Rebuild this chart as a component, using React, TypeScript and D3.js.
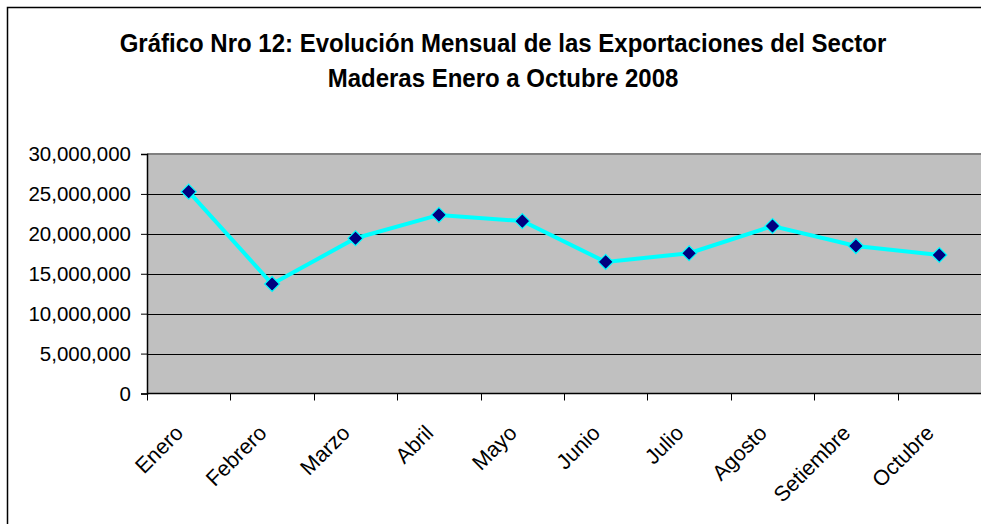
import React, { useEffect, useRef } from 'react';
import * as d3 from 'd3';

// months and monthly exports
const months = ['Enero', 'Febrero', 'Marzo', 'Abril', 'Mayo', 'Junio', 'Julio', 'Agosto', 'Setiembre', 'Octubre'];
const exportsValues = [25280000, 13720000, 19450000, 22370000, 21600000, 16480000, 17570000, 20980000, 18470000, 17350000];
const yTicks = [0, 5000000, 10000000, 15000000, 20000000, 25000000, 30000000];
const titleLines = [
  'Gráfico Nro 12: Evolución Mensual de las Exportaciones del Sector',
  'Maderas Enero a Octubre 2008',
];

const W = 981;
const H = 524;
const FONT = 'Liberation Sans, Arial, sans-serif';

export default function App() {
  const ref = useRef<SVGSVGElement>(null);

  useEffect(() => {
    const svg = d3.select(ref.current);
    svg.selectAll('*').remove();

    const left = 147;
    const right = 981;
    const top = 154;
    const bottom = 393.5;

    // chart area border, only left and top edges fall inside the picture
    svg.append('path')
      .attr('d', `M7.5,${H + 5}V7.5H${W + 5}`)
      .attr('fill', 'none')
      .attr('stroke', '#000')
      .attr('stroke-width', 1.5);

    const title = svg.append('g')
      .attr('font-family', FONT)
      .attr('font-weight', 'bold')
      .attr('font-size', 24)
      .attr('text-anchor', 'middle');
    titleLines.forEach((t, i) => {
      title.append('text')
        .attr('transform', `translate(503,${[52, 87][i]}) scale(1,1.1)`)
        .text(t);
    });

    const x = d3.scaleBand<string>().domain(months).range([left, right]);
    const y = d3.scaleLinear().domain([0, 30000000]).range([bottom, top]);

    // plot area
    svg.append('rect')
      .attr('x', left)
      .attr('y', top)
      .attr('width', W - left + 10)
      .attr('height', bottom - top)
      .attr('fill', '#c0c0c0');
    svg.append('line')
      .attr('x1', left)
      .attr('x2', W + 10)
      .attr('y1', top)
      .attr('y2', top)
      .attr('stroke', '#808080')
      .attr('stroke-width', 2);

    // gridlines
    svg.append('g')
      .selectAll('line')
      .data(yTicks.filter(d => d > 0 && d < 30000000))
      .enter()
      .append('line')
      .attr('x1', left)
      .attr('x2', W + 10)
      .attr('y1', d => Math.round(y(d)) + 0.5)
      .attr('y2', d => Math.round(y(d)) + 0.5)
      .attr('stroke', '#000')
      .attr('stroke-width', 1);

    // y axis
    const yAxis = svg.append('g')
      .attr('transform', `translate(${left},0)`)
      .call(d3.axisLeft(y).tickValues(yTicks).tickSize(6).tickPadding(10)
        .tickFormat(d => d3.format(',')(d as number)));
    yAxis.select('.domain').attr('stroke', '#000').attr('stroke-width', 1.5);
    yAxis.selectAll('.tick line').attr('stroke', '#000');
    yAxis.selectAll('.tick text')
      .attr('font-family', FONT)
      .attr('font-size', 20.5)
      .attr('fill', '#000');

    // x axis
    const xAxis = svg.append('g')
      .attr('transform', `translate(0,${bottom})`);
    xAxis.append('line')
      .attr('x1', left)
      .attr('x2', W + 10)
      .attr('y1', 0)
      .attr('y2', 0)
      .attr('stroke', '#000')
      .attr('stroke-width', 1.5);
    xAxis.selectAll('line.tk')
      .data(months)
      .enter()
      .append('line')
      .attr('class', 'tk')
      .attr('x1', d => Math.round(x(d) as number) + 0.5)
      .attr('x2', d => Math.round(x(d) as number) + 0.5)
      .attr('y1', 0)
      .attr('y2', 7)
      .attr('stroke', '#000');
    xAxis.selectAll('text')
      .data(months)
      .enter()
      .append('text')
      .attr('transform', d => `translate(${(x(d) as number) + x.bandwidth() / 2 - 15},30) rotate(-45)`)
      .attr('text-anchor', 'end')
      .attr('dy', '0.71em')
      .attr('font-family', FONT)
      .attr('font-size', 21.5)
      .attr('fill', '#000')
      .text(d => d);

    const cx = (i: number) => (x(months[i]) as number) + x.bandwidth() / 2;

    const line = d3.line<number>()
      .x((d, i) => cx(i))
      .y(d => y(d));

    svg.append('path')
      .datum(exportsValues)
      .attr('d', line)
      .attr('fill', 'none')
      .attr('stroke', '#00ffff')
      .attr('stroke-width', 4);

    svg.append('g')
      .selectAll('path')
      .data(exportsValues)
      .enter()
      .append('path')
      .attr('transform', (d, i) => `translate(${cx(i)},${y(d)})`)
      .attr('d', 'M0,-7.5L7.5,0L0,7.5L-7.5,0Z')
      .attr('fill', '#000080')
      .attr('stroke', '#00ffff')
      .attr('stroke-width', 1.2);
  }, []);

  return (
    <svg
      ref={ref}
      width={W}
      height={H}
      style={{ position: 'absolute', left: 0, top: 0, background: '#fff' }}
    />
  );
}
